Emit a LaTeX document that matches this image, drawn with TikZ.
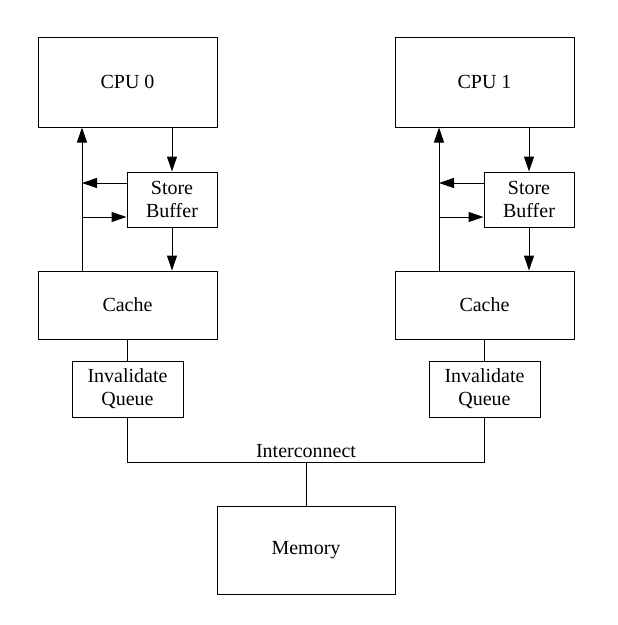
\documentclass[tikz,border=0pt]{standalone}
\usepackage{fontspec}
\setmainfont{Liberation Serif}
\usetikzlibrary{arrows.meta,calc}
\begin{document}
\begin{tikzpicture}[x=1pt,y=-1pt,
  box/.style={draw,line width=1pt,inner sep=0pt,align=center,font=\fontsize{20}{23}\selectfont},
  conn/.style={line width=1pt},
  arr/.style={line width=1pt,-{Triangle[length=15pt,width=10pt]}}]
\useasboundingbox (0,0) rectangle (618,625);
\foreach \n/\dx in {0/0,1/357}{
  \node[box,minimum width=179pt,minimum height=90pt] (cpu\n) at (127.5+\dx,82) {CPU \n};
  \node[box,minimum width=90pt,minimum height=55pt] (sb\n) at (172+\dx,199.5) {Store\\Buffer};
  \node[box,minimum width=179pt,minimum height=68pt] (cache\n) at (127.5+\dx,305) {Cache};
  \node[box,minimum width=111pt,minimum height=56pt] (iq\n) at (127.5+\dx,389) {Invalidate\\Queue};
  \coordinate (l\n) at (82+\dx,200);
  \draw[arr] (cpu\n.south -| sb\n.north) -- (sb\n.north);
  \draw[arr] (sb\n.south) -- (sb\n.south |- cache\n.north);
  \draw[arr] (l\n |- cache\n.north) -- (l\n |- cpu\n.south);
  \draw[arr] ([yshift=16.5pt]sb\n.west) -- ([yshift=16.5pt]sb\n.west -| l\n);
  \draw[arr] ([yshift=-17.5pt]sb\n.west -| l\n) -- ([yshift=-17.5pt]sb\n.west);
  \draw[conn] (cache\n.south -| iq\n.north) -- (iq\n.north);
}
\node[box,minimum width=178pt,minimum height=88pt] (mem) at (306,550) {Memory};
\coordinate (bus) at (306,462);
\draw[conn] (iq0.south) -- (iq0.south |- bus) -- (iq1.south |- bus) -- (iq1.south);
\draw[conn] (mem.north) -- (bus);
\node[font=\fontsize{20}{23}\selectfont,anchor=south,inner sep=4pt] (ic) at (bus) {Interconnect};
\end{tikzpicture}
\end{document}
